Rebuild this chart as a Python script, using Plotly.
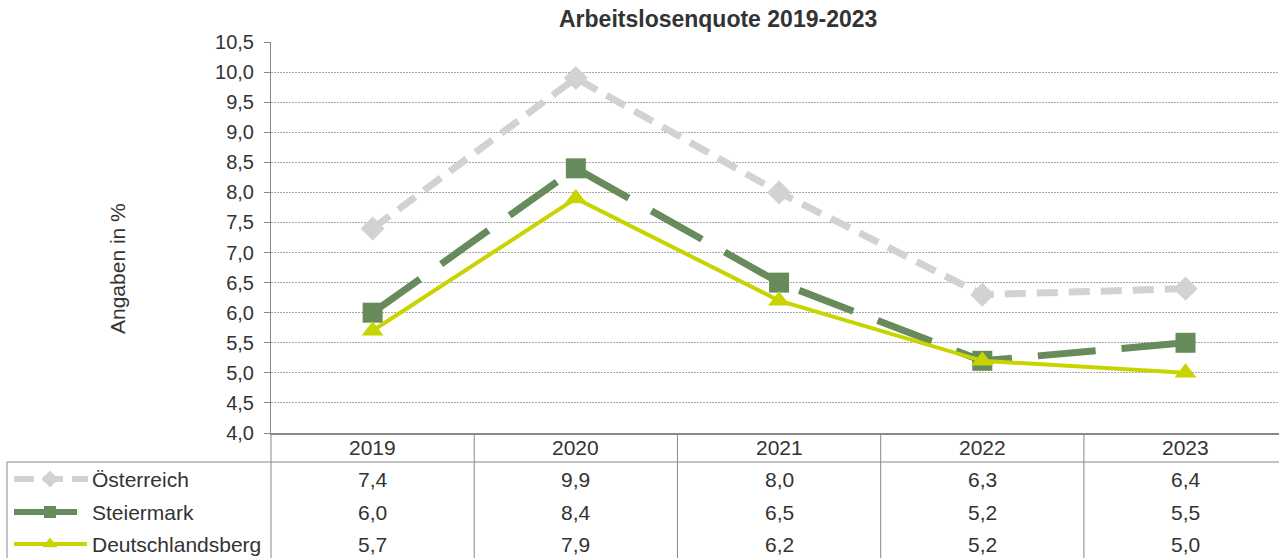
import plotly.graph_objects as go

# ---------------- data ----------------
years = ["2019", "2020", "2021", "2022", "2023"]
oesterreich = [7.4, 9.9, 8.0, 6.3, 6.4]
steiermark = [6.0, 8.4, 6.5, 5.2, 5.5]
deutschlandsberg = [5.7, 7.9, 6.2, 5.2, 5.0]
series_names = ["Österreich", "Steiermark", "Deutschlandsberg"]
title_text = "Arbeitslosenquote 2019-2023"
y_title = "Angaben in %"

# ---------------- styling ----------------
W, H = 1279, 558
FONT = "Liberation Sans, Arial, sans-serif"
TXT = "#333333"
AXC = "#888888"
C_AT = "#D2D2D2"
C_ST = "#678B5B"
C_DL = "#C8D400"

styles = [
    dict(color=C_AT, width=7, dash="21px,11px", symbol="diamond", size=18.5,
         ksize=13, kdash="20px,9px", kx1=88, kw=6),
    dict(color=C_ST, width=7, dash="58px,26px", symbol="square", size=20,
         ksize=12, kdash="solid", kx1=77, kw=6),
    dict(color=C_DL, width=4, dash="solid", symbol="triangle-up", size=19,
         ksize=13, kdash="solid", kx1=87, kw=4),
]
values = [oesterreich, steiermark, deutschlandsberg]

# plot area pixel box
PL, PR, PT, PB = 271, 1279, 42, 433
ROW_Y = [479, 512, 544]
HEAD_Y = 447
TABLE_TOP_LINE = 462


def px_x(p):
    return p / W


def px_y(p):
    return (H - p) / H


x_idx = list(range(len(years)))

fig = go.Figure()

for name, vals, st in zip(series_names, values, styles):
    fig.add_trace(go.Scatter(
        x=x_idx, y=vals, name=name, mode="lines+markers",
        line=dict(color=st["color"], width=st["width"], dash=st["dash"]),
        marker=dict(symbol=st["symbol"], size=st["size"], color=st["color"],
                    line=dict(width=0)),
        cliponaxis=False, showlegend=False, hoverinfo="skip",
        xaxis="x", yaxis="y",
    ))

# legend-key markers in the table (pixel overlay axes)
for st, ry in zip(styles, ROW_Y):
    fig.add_trace(go.Scatter(
        x=[50], y=[ry], mode="markers",
        marker=dict(symbol=st["symbol"], size=st["ksize"], color=st["color"],
                    line=dict(width=0)),
        showlegend=False, hoverinfo="skip", xaxis="x2", yaxis="y2",
    ))

shapes = []
annotations = []

# legend-key lines
for st, ry in zip(styles, ROW_Y):
    shapes.append(dict(type="line", xref="paper", yref="paper",
                       x0=px_x(14), x1=px_x(st["kx1"]), y0=px_y(ry), y1=px_y(ry),
                       line=dict(color=st["color"], width=st["kw"], dash=st["kdash"])))

# table grid lines
line_style = dict(color=AXC, width=1)
shapes.append(dict(type="line", xref="paper", yref="paper",
                   x0=px_x(PL), x1=px_x(PL), y0=px_y(PB), y1=0, line=line_style))
for i in range(len(years) - 1):
    shapes.append(dict(type="line", xref="x", yref="paper",
                       x0=i + 0.5, x1=i + 0.5, y0=px_y(PB), y1=0, line=line_style))
shapes.append(dict(type="line", xref="paper", yref="paper",
                   x0=px_x(7), x1=1, y0=px_y(TABLE_TOP_LINE), y1=px_y(TABLE_TOP_LINE),
                   line=line_style))
shapes.append(dict(type="line", xref="paper", yref="paper",
                   x0=px_x(7), x1=px_x(7), y0=px_y(TABLE_TOP_LINE), y1=0, line=line_style))

TBL_SIZE = 21
for i, yr in enumerate(years):
    annotations.append(dict(x=i, xref="x", y=px_y(HEAD_Y), yref="paper",
                            text=yr, showarrow=False, xanchor="center", yanchor="middle",
                            font=dict(family=FONT, size=TBL_SIZE, color=TXT)))

for name, vals, ry in zip(series_names, values, ROW_Y):
    annotations.append(dict(x=px_x(90), xref="paper", y=px_y(ry), yref="paper",
                            text=name, showarrow=False, xanchor="left", yanchor="middle",
                            font=dict(family=FONT, size=TBL_SIZE, color=TXT)))
    for i, v in enumerate(vals):
        annotations.append(dict(x=i, xref="x", y=px_y(ry), yref="paper",
                                text=f"{v:.1f}".replace(".", ","), showarrow=False,
                                xanchor="center", yanchor="middle",
                                font=dict(family=FONT, size=TBL_SIZE, color=TXT)))

annotations.append(dict(x=px_x(718), xref="paper", y=px_y(19), yref="paper",
                        text=f"<b>{title_text}</b>", showarrow=False,
                        xanchor="center", yanchor="middle",
                        font=dict(family=FONT, size=23, color=TXT)))
annotations.append(dict(x=px_x(117), xref="paper", y=px_y(269), yref="paper",
                        text=y_title, showarrow=False, textangle=-90,
                        xanchor="center", yanchor="middle",
                        font=dict(family=FONT, size=21, color=TXT)))

unit = (PR - PL) / 4.96
x_max = -0.5 + (PR - PL) / unit

fig.update_layout(
    width=W, height=H, autosize=False,
    margin=dict(l=0, r=0, t=0, b=0, pad=0, autoexpand=False),
    paper_bgcolor="white", plot_bgcolor="rgba(0,0,0,0)",
    separators=",.",
    font=dict(family=FONT, color=TXT),
    showlegend=False,
    xaxis=dict(domain=[px_x(PL), 1], range=[-0.5, x_max], showticklabels=False,
               showgrid=False, zeroline=False, showline=True, linecolor=AXC,
               linewidth=2, ticks="", fixedrange=True, automargin=False),
    yaxis=dict(domain=[px_y(PB), px_y(PT)], range=[4, 10.5], tick0=4, dtick=0.5,
               tickformat=".1f", showgrid=True, gridcolor="#A8A8A8", griddash="2px,1px",
               gridwidth=1, zeroline=False, showline=True, linecolor=AXC, linewidth=1,
               ticks="outside", ticklen=6, tickcolor=AXC, ticklabelstandoff=6,
               tickfont=dict(family=FONT, size=20, color=TXT), fixedrange=True,
               automargin=False),
    xaxis2=dict(domain=[0, 1], range=[0, W], visible=False, fixedrange=True,
                automargin=False),
    yaxis2=dict(domain=[0, 1], range=[H, 0], visible=False, fixedrange=True,
                automargin=False),
    shapes=shapes, annotations=annotations,
)

fig.write_html(
    "out.html",
    config={"displayModeBar": False, "staticPlot": True},
    post_script="document.body.style.margin='0';document.body.style.overflow='hidden';",
)
